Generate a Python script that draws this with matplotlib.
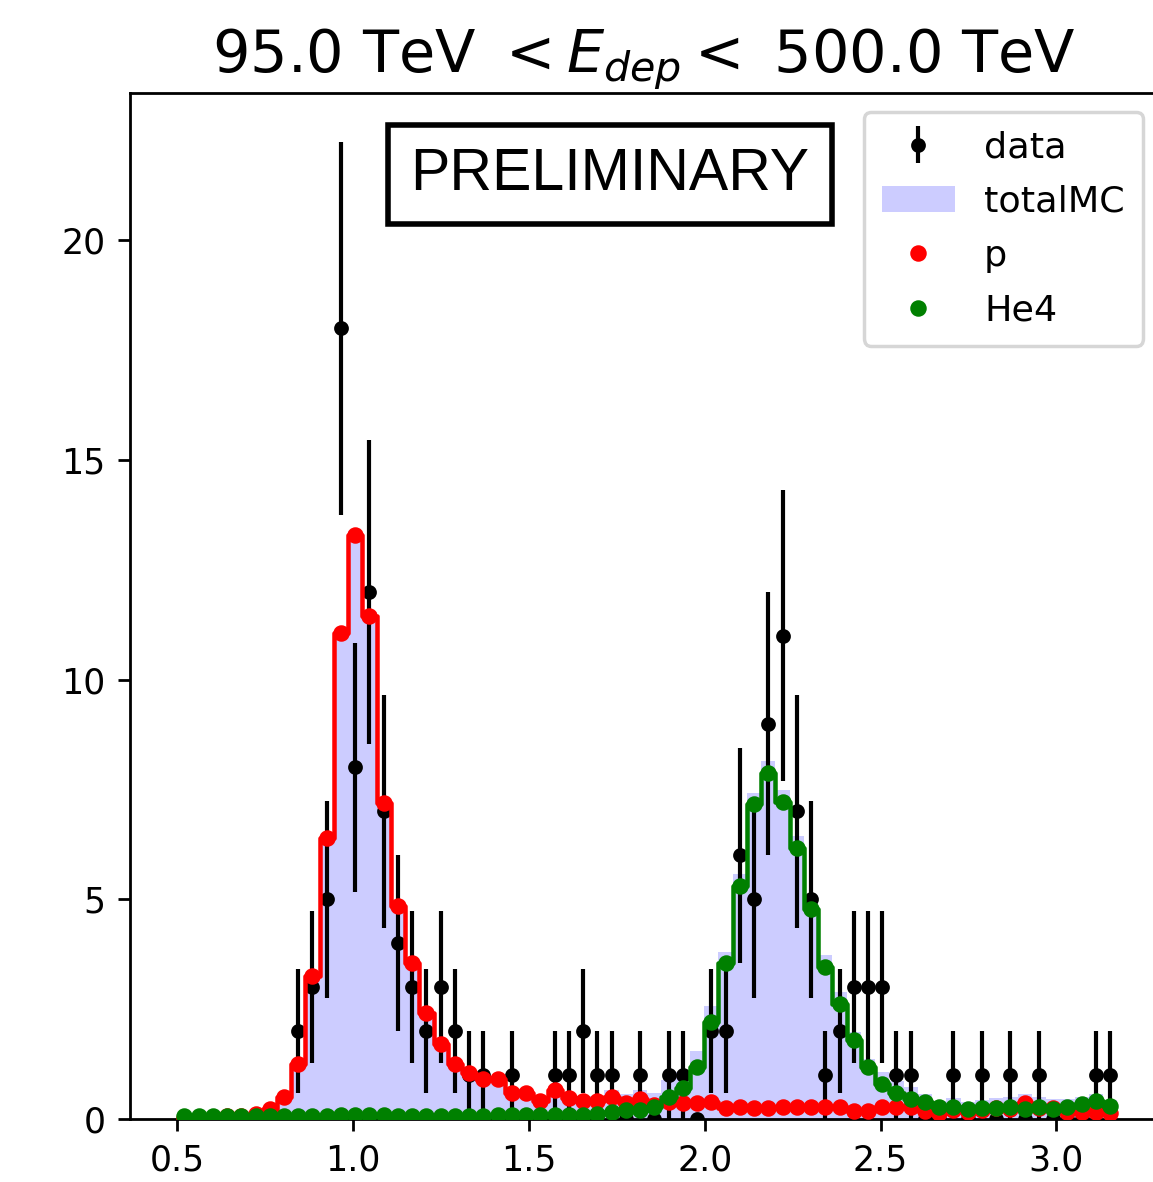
import numpy as np
import matplotlib
matplotlib.use("Agg")
import matplotlib.pyplot as plt

# binning of the x variable (66 bins)
edges = np.linspace(0.5, 3.173, 67)
centers = 0.5 * (edges[1:] + edges[:-1])
width = edges[1] - edges[0]

# observed counts per bin
data = np.array([0, 0, 0, 0, 0, 0, 0, 0, 2, 3,
                 5, 18, 8, 12, 7, 4, 3, 2, 3, 2,
                 1, 1, 0, 1, 0, 0, 1, 1, 2, 1,
                 1, 0, 1, 0, 1, 1, 0, 2, 2, 6,
                 5, 9, 11, 7, 5, 1, 2, 3, 3, 3,
                 1, 1, 0, 0, 1, 0, 1, 0, 1, 0,
                 1, 0, 0, 0, 1, 1], dtype=float)

# proton MC template
p_mc = np.array([0.02, 0.02, 0.03, 0.06, 0.07, 0.12, 0.22, 0.49, 1.25, 3.25,
                 6.4, 11.05, 13.3, 11.45, 7.2, 4.85, 3.55, 2.42, 1.7, 1.25,
                 1.05, 0.9, 0.9, 0.6, 0.6, 0.42, 0.67, 0.47, 0.42, 0.4,
                 0.49, 0.37, 0.45, 0.32, 0.38, 0.36, 0.36, 0.38, 0.25, 0.27,
                 0.24, 0.26, 0.27, 0.28, 0.28, 0.28, 0.28, 0.19, 0.19, 0.27,
                 0.27, 0.28, 0.19, 0.13, 0.2, 0.17, 0.2, 0.24, 0.22, 0.36,
                 0.24, 0.24, 0.17, 0.17, 0.17, 0.14])

# He4 MC template
he4_mc = np.array([0.07, 0.07, 0.07, 0.07, 0.07, 0.07, 0.07, 0.07, 0.07, 0.07,
                   0.07, 0.08, 0.08, 0.08, 0.08, 0.07, 0.07, 0.07, 0.07, 0.07,
                   0.07, 0.07, 0.08, 0.08, 0.08, 0.08, 0.09, 0.09, 0.1, 0.12,
                   0.17, 0.2, 0.2, 0.28, 0.5, 0.7, 1.18, 2.2, 3.55, 5.3,
                   7.17, 7.88, 7.22, 6.16, 4.79, 3.46, 2.61, 1.8, 1.18, 0.8,
                   0.6, 0.45, 0.38, 0.27, 0.27, 0.22, 0.24, 0.24, 0.27, 0.22,
                   0.27, 0.22, 0.28, 0.33, 0.41, 0.3])

total_mc = p_mc + he4_mc

fig = plt.figure(figsize=(1153 / 250, 1182 / 250), dpi=250)
# right spine sits outside the canvas, like the cropped original
ax = fig.add_axes([0.1128, 0.0533, 0.9172, 0.868])

bars = ax.bar(centers, total_mc, width=width, color='b', alpha=0.2,
              linewidth=0, label='totalMC', zorder=1)
eb = ax.errorbar(centers, data, yerr=np.sqrt(data), fmt='k.', elinewidth=1.2,
                 markersize=6.5, label='data', zorder=2)

ax.step(centers, p_mc, where='mid', color='r', lw=1.3, zorder=3)
pdot, = ax.plot(centers, p_mc, 'r.', markersize=7.5, label='p', zorder=3)
ax.step(centers, he4_mc, where='mid', color='g', lw=1.3, zorder=4)
hedot, = ax.plot(centers, he4_mc, 'g.', markersize=7.5, label='He4', zorder=4)

ax.set_xlim(0.366, 3.373)
ax.set_ylim(0, 23.35)

ax.set_title(r'95.0 TeV $<E_{dep}<$ 500.0 TeV', fontsize=17, x=0.486)
ax.legend(handles=[eb, bars, pdot, hedot], loc='upper right',
          bbox_to_anchor=(0.9913, 0.9052), bbox_transform=fig.transFigure,
          borderaxespad=0, fontsize=10.5, labelspacing=0.56,
          handlelength=2.0, borderpad=0.5)

ax.text(0.4535, 0.9206, 'PRELIMINARY', transform=ax.transAxes,
        ha='center', va='center', fontsize=17, family='Liberation Sans',
        bbox=dict(boxstyle='square,pad=0.38', facecolor='white',
                  edgecolor='black', linewidth=1.6), zorder=5)

fig.savefig('out.png', dpi=250)
